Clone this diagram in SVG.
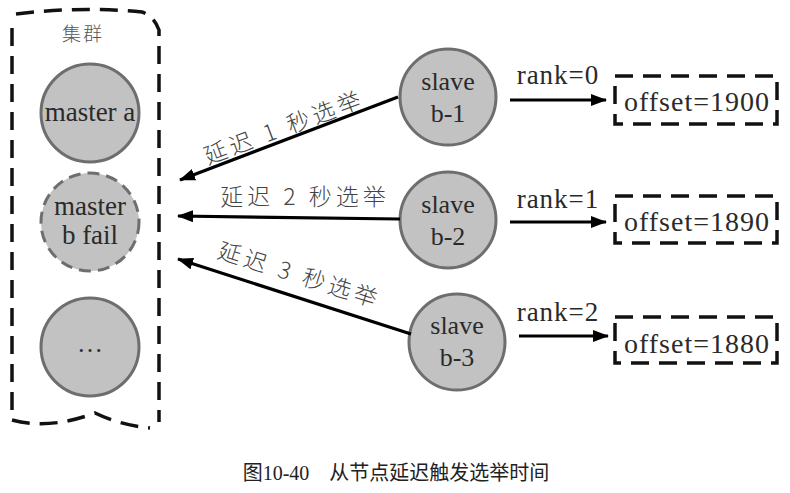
<svg xmlns="http://www.w3.org/2000/svg" width="790" height="493" viewBox="0 0 790 493">
<defs>
<marker id="ah" viewBox="0 0 16 12" refX="15" refY="6" markerWidth="16" markerHeight="12" markerUnits="userSpaceOnUse" orient="auto">
<path d="M0 0 L16 6 L0 12 Z" fill="#000"/>
</marker>
</defs>
<rect width="790" height="493" fill="#fff"/>
<g id="cluster" fill="none" stroke="#111" stroke-width="3.5" stroke-dasharray="18 10">
<path d="M16 14 Q80 6 142 12 Q154 16 159 30 L159 422"/>
<path d="M12 28 L12 420 Q50 430 95 413 Q120 425 150 428"/>
</g>
<text x="83" y="41" text-anchor="middle" font-family="Noto Sans CJK SC" font-size="19" fill="#555" font-weight="300" letter-spacing="2">集群</text>
<g fill="#c2c2c2" stroke="#6e6e6e" stroke-width="3">
<circle id="master-a" cx="90" cy="113" r="49"/>
<circle id="master-b" cx="90" cy="222" r="49" stroke-dasharray="12 7"/>
<circle id="master-etc" cx="90" cy="347" r="49"/>
<circle id="slave-b1" cx="448" cy="97" r="48"/>
<circle id="slave-b2" cx="448" cy="220" r="48"/>
<circle id="slave-b3" cx="457" cy="342" r="48"/>
</g>
<g fill="none" stroke="#111" stroke-width="3.5" stroke-dasharray="18 10">
<rect id="offset-1" x="615" y="76" width="162" height="48"/>
<rect id="offset-2" x="615" y="196" width="162" height="47"/>
<rect id="offset-3" x="615" y="317" width="162" height="46"/>
</g>
<g id="connectors" stroke="#000" stroke-width="3.2">
<line x1="398" y1="97" x2="180" y2="180" marker-end="url(#ah)"/>
<line x1="400" y1="219" x2="178" y2="216" marker-end="url(#ah)"/>
<line x1="411" y1="334" x2="178" y2="259" marker-end="url(#ah)"/>
<line x1="510" y1="100" x2="606" y2="100" marker-end="url(#ah)"/>
<line x1="510" y1="222" x2="606" y2="222" marker-end="url(#ah)"/>
<line x1="519" y1="336" x2="608" y2="336" marker-end="url(#ah)"/>
</g>
<text x="90" y="121" text-anchor="middle" font-family="Liberation Serif" font-size="27" fill="#2a2a2a">master a</text>
<text x="90" y="215" text-anchor="middle" font-family="Liberation Serif" font-size="27" fill="#2a2a2a">master</text>
<text x="90" y="244" text-anchor="middle" font-family="Liberation Serif" font-size="27" fill="#2a2a2a">b fail</text>
<text x="90" y="352" text-anchor="middle" font-family="Liberation Serif" font-size="26" fill="#2a2a2a">…</text>
<text x="448" y="90" text-anchor="middle" font-family="Liberation Serif" font-size="26" fill="#2a2a2a">slave</text>
<text x="448" y="122" text-anchor="middle" font-family="Liberation Serif" font-size="26" fill="#2a2a2a">b-1</text>
<text x="448" y="213" text-anchor="middle" font-family="Liberation Serif" font-size="26" fill="#2a2a2a">slave</text>
<text x="448" y="245" text-anchor="middle" font-family="Liberation Serif" font-size="26" fill="#2a2a2a">b-2</text>
<text x="457" y="334" text-anchor="middle" font-family="Liberation Serif" font-size="26" fill="#2a2a2a">slave</text>
<text x="457" y="366" text-anchor="middle" font-family="Liberation Serif" font-size="26" fill="#2a2a2a">b-3</text>
<text x="697" y="111" text-anchor="middle" font-family="Liberation Serif" font-size="28" letter-spacing="1" fill="#2a2a2a">offset=1900</text>
<text x="697" y="231" text-anchor="middle" font-family="Liberation Serif" font-size="28" letter-spacing="1" fill="#2a2a2a">offset=1890</text>
<text x="697" y="353" text-anchor="middle" font-family="Liberation Serif" font-size="28" letter-spacing="1" fill="#2a2a2a">offset=1880</text>
<text x="558" y="84" text-anchor="middle" font-family="Liberation Serif" font-size="27" letter-spacing="1" fill="#2a2a2a">rank=0</text>
<text x="558" y="208" text-anchor="middle" font-family="Liberation Serif" font-size="27" letter-spacing="1" fill="#2a2a2a">rank=1</text>
<text x="558" y="321" text-anchor="middle" font-family="Liberation Serif" font-size="27" letter-spacing="1" fill="#2a2a2a">rank=2</text>
<text x="0" y="0" text-anchor="middle" transform="translate(287,135) rotate(-20.5)" font-family="Noto Sans CJK SC" font-size="23" fill="#444" font-weight="300" letter-spacing="4">延迟 1 秒选举</text>
<text x="305" y="205" text-anchor="middle" font-family="Noto Sans CJK SC" font-size="23" fill="#444" font-weight="300" letter-spacing="4">延迟 2 秒选举</text>
<text x="0" y="0" text-anchor="middle" transform="translate(297,283) rotate(17.5)" font-family="Noto Sans CJK SC" font-size="23" fill="#444" font-weight="300" letter-spacing="4">延迟 3 秒选举</text>
<text x="396" y="480" text-anchor="middle" font-family="Liberation Serif, Noto Sans CJK SC, serif" font-size="20" fill="#222">图10-40　从节点延迟触发选举时间</text>
</svg>
